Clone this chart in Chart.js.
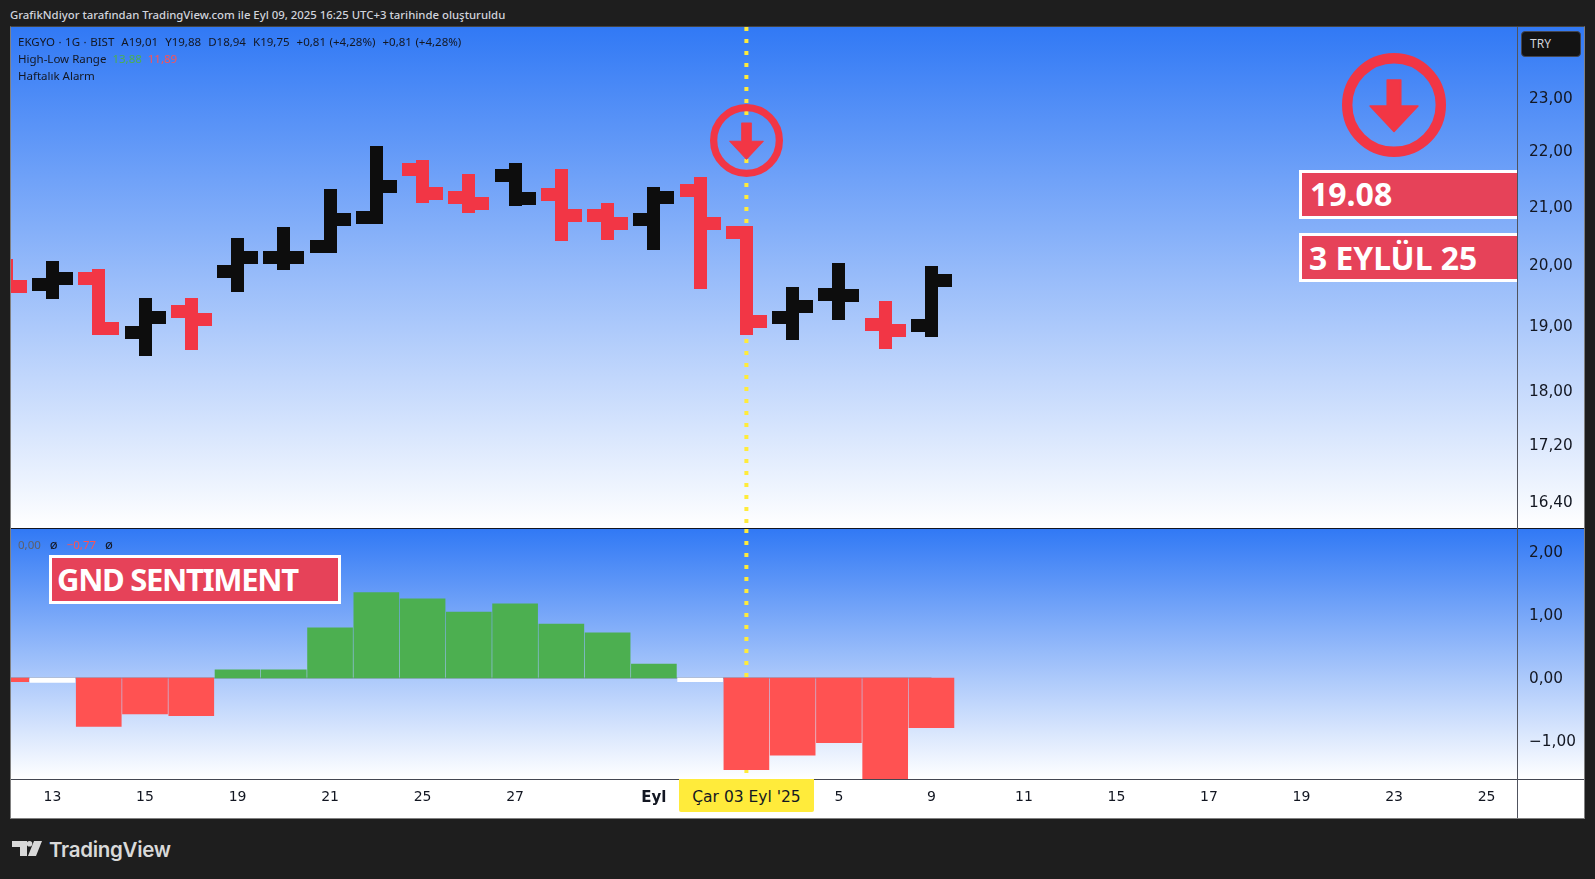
<!DOCTYPE html>
<html lang="tr">
<head>
<meta charset="utf-8">
<title>EKGYO</title>
<script src="https://cdn.jsdelivr.net/npm/chart.js@4"></script>
<style>
  html, body { margin: 0; padding: 0; background: #1e1e1e; overflow: hidden; }
  body { width: 1595px; height: 879px; position: relative; font-family: "Noto Sans", sans-serif; }
  .abs { position: absolute; }
  .pane { left: 11px; width: 1573px; background: linear-gradient(#3179f5, #ffffff); }
  canvas { position: absolute; display: block; }
  .legend { left: 18px; font-size: 11.5px; color: #131722; white-space: pre; line-height: 16px; }
  .tag { background: #e64259; border: 3px solid #fff; color: #fff; font-weight: 700; box-sizing: border-box; white-space: pre; }
</style>
</head>
<body>
<div class="abs" style="left:10px;top:14px;transform:translateY(-50%);font-size:11.36px;font-weight:500;color:#d1d4dc;white-space:pre">GrafikNdiyor tarafından TradingView.com ile Eyl 09, 2025 16:25 UTC+3 tarihinde oluşturuldu</div>

<div class="abs pane" style="top:27px;height:501px"></div>
<div class="abs pane" style="top:529px;height:250px"></div>
<div class="abs" style="left:11px;top:779px;width:1573px;height:39px;background:#fff"></div>
<div class="abs" style="left:11px;top:528px;width:1573px;height:1px;background:#131722"></div>
<div class="abs" style="left:11px;top:779px;width:1573px;height:1px;background:#434651"></div>
<div class="abs" style="left:1517px;top:27px;width:1px;height:791px;background:#50535e"></div>
<div class="abs" style="left:10px;top:26px;width:1573px;height:791px;border:1px solid #808080;border-top-color:#434343"></div>

<canvas id="priceChart" width="1573" height="501" style="left:11px;top:27px"></canvas>
<canvas id="sentimentChart" width="1573" height="289" style="left:11px;top:529px"></canvas>

<div class="abs legend" style="top:34px;word-spacing:0.55px">EKGYO · 1G · BIST  A19,01  Y19,88  D18,94  K19,75  +0,81 (+4,28%)  +0,81 (+4,28%)</div>
<div class="abs legend" style="top:51px">High-Low Range  <span style="color:#4caf50">13,88</span>  <span style="color:#ff5252">11,89</span></div>
<div class="abs legend" style="top:68px">Haftalık Alarm</div>
<div class="abs legend" style="top:536px;color:#5d606b;word-spacing:1.5px">0,00  <span style="color:#131722;font-size:13px">ø</span>  <span style="color:#ff5252">−0,77</span>  <span style="color:#131722;font-size:13px">ø</span></div>

<div class="abs tag" style="left:49px;top:555px;width:292px;height:49px;font-size:31px;letter-spacing:-1.3px;line-height:43px;padding-left:5px">GND SENTIMENT</div>
<div class="abs tag" style="left:1299px;top:170px;width:218px;height:49px;border-right:0;font-size:32px;line-height:41px;padding-left:8px">19.08</div>
<div class="abs tag" style="left:1299px;top:233px;width:218px;height:49px;border-right:0;font-size:31.8px;line-height:43px;padding-left:7px">3 EYLÜL 25</div>

<div class="abs" style="left:1521px;top:31px;width:60px;height:26px;box-sizing:border-box;background:#131313;border:1px solid #434651;border-radius:4px;color:#d1d4dc;font-size:12px;line-height:24px;padding-left:8px">TRY</div>
<div class="abs" style="left:679px;top:779px;width:135px;height:33px;background:#ffeb3b;border-radius:0 0 2px 2px;color:#131722;font:15.5px 'DejaVu Sans';line-height:36px;text-align:center">Çar 03 Eyl '25</div>

<svg width="0" height="0" style="position:absolute">
  <symbol id="downIcon" viewBox="0 0 100 100">
    <circle cx="50" cy="50" r="45" fill="none" stroke="#f23645" stroke-width="10"/>
    <path d="M43.5 26 H56.5 V51 H73 L50 75.5 L27 51 H43.5 Z" fill="#f23645" stroke="#f23645" stroke-width="1.5" stroke-linejoin="round"/>
  </symbol>
</svg>
<svg class="abs" style="left:710px;top:104px" width="73" height="73"><use href="#downIcon"/></svg>
<svg class="abs" style="left:1342px;top:53px" width="104" height="104"><use href="#downIcon"/></svg>

<svg class="abs" style="left:12px;top:841px" width="30" height="15" viewBox="0 0 30 15">
  <path d="M0 0 H15 V15 H8 V6 H0 Z" fill="#d9d9d9"/>
  <circle cx="17.5" cy="2.8" r="2.8" fill="#d9d9d9"/>
  <path d="M22 0 H30 L24 15 H16 Z" fill="#d9d9d9"/>
</svg>
<div class="abs" style="left:49px;top:849px;transform:translateY(-50%);font:600 20.5px Inter, sans-serif;letter-spacing:-0.3px;color:#d9d9d9">TradingView</div>

<script>
const barIndex = [0, 1, 2, 3, 4, 5, 6, 7, 8, 9, 10, 11, 12, 13, 14, 15, 16, 17, 18, 19, 20];
const opens  = [19.92, 19.67, 19.77, 18.90, 19.24, 19.89, 20.13, 20.32, 20.82, 21.67, 21.17, 21.56, 21.22, 20.85, 20.77, 21.29, 20.56, 19.14, 19.51, 19.03, 19.01];
const highs  = [19.99, 19.96, 19.82, 19.35, 19.35, 20.34, 20.54, 21.20, 21.98, 21.72, 21.47, 21.67, 21.56, 20.96, 21.24, 21.42, 20.56, 19.53, 19.92, 19.30, 19.88];
const lows   = [19.64, 19.54, 18.96, 18.63, 18.73, 19.66, 20.02, 20.32, 20.82, 21.19, 21.01, 21.12, 20.52, 20.54, 20.37, 19.71, 18.96, 18.88, 19.20, 18.74, 18.94];
const closes = [19.64, 19.77, 18.96, 19.14, 19.11, 20.12, 20.12, 20.78, 21.36, 21.24, 21.05, 21.15, 20.84, 20.70, 21.17, 20.70, 19.08, 19.32, 19.49, 18.93, 19.75];
const sentiment = [-0.06, -0.07, -0.77, -0.57, -0.60, 0.13, 0.13, 0.80, 1.36, 1.26, 1.05, 1.18, 0.86, 0.72, 0.22, -0.06, -1.46, -1.23, -1.03, -1.70, -0.79];
const neutralBars = [1, 15];

const priceTicks = [23, 22, 21, 20, 19, 18, 17.2, 16.4];
const sentimentTicks = [2, 1, 0, -1];
const dateTickIndex = [1, 3, 5, 7, 9, 11, 14, 18, 20, 22, 24, 26, 28, 30, 32];
const dateTickLabels = ['13', '15', '19', '21', '25', '27', 'Eyl', '5', '9', '11', '15', '17', '19', '23', '25'];
const alarmIndex = 16;

const RED = '#f23645', BLACK = '#0d0d0d';
const X_MIN = 0.103, X_MAX = 32.658;
const AXIS_WIDTH = 67;
const TICK_REACH = 20.5, TICK_THICK = 13;

const barColors = closes.map((c, i) => (i === 0 || c < closes[i - 1]) ? RED : BLACK);
const fmt = v => v.toFixed(2).replace('.', ',').replace('-', '−');

// the panes butt against each other, so no label padding around the scales
const fitYAxis = s => { s.width = AXIS_WIDTH; s.paddingTop = 0; s.paddingBottom = 0; };
const fitXAxis = s => { s.height = 39; s.paddingLeft = 0; s.paddingRight = 0; };

// yellow dotted crosshair, starts fresh at the top of each pane
const alarmLine = {
  id: 'alarmLine',
  beforeDatasetsDraw(chart) {
    const { ctx, chartArea, scales } = chart;
    const x = scales.x.getPixelForValue(alarmIndex);
    ctx.save();
    ctx.strokeStyle = '#ffeb3b';
    ctx.lineWidth = 4;
    ctx.setLineDash([4, 8]);
    ctx.beginPath();
    ctx.moveTo(x, chartArea.top);
    ctx.lineTo(x, chartArea.bottom);
    ctx.stroke();
    ctx.restore();
  }
};

// open/close ticks and capped stems on pixel edges, the native bar stays just inside
const ohlcTicks = {
  id: 'ohlcTicks',
  afterDatasetsDraw(chart) {
    const { ctx, chartArea, scales } = chart;
    const half = TICK_THICK / 2;
    ctx.save();
    ctx.beginPath();
    ctx.rect(chartArea.left, chartArea.top, chartArea.width, chartArea.height);
    ctx.clip();
    barIndex.forEach((idx, i) => {
      const x = scales.x.getPixelForValue(idx);
      const stemLeft = Math.round(x - half);
      const stemTop = Math.round(scales.y.getPixelForValue(highs[i]) - half);
      const stemBottom = Math.round(scales.y.getPixelForValue(lows[i]) + half);
      const openTop = Math.round(scales.y.getPixelForValue(opens[i]) - half);
      const closeTop = Math.round(scales.y.getPixelForValue(closes[i]) - half);
      ctx.fillStyle = barColors[i];
      ctx.fillRect(stemLeft, stemTop, TICK_THICK, stemBottom - stemTop);
      ctx.fillRect(stemLeft - 14, openTop, 14, TICK_THICK);
      ctx.fillRect(stemLeft + TICK_THICK, closeTop, 14, TICK_THICK);
    });
    ctx.restore();
  }
};

Chart.defaults.animation = false;
Chart.defaults.responsive = false;
Chart.defaults.devicePixelRatio = 1;

new Chart(document.getElementById('priceChart').getContext('2d'), {
  type: 'bar',
  data: {
    datasets: [{
      label: 'EKGYO',
      data: barIndex.map((idx, i) => ({ x: idx, y: [lows[i], highs[i]] })),
      backgroundColor: barColors,
      barThickness: TICK_THICK - 2,
    }],
  },
  plugins: [alarmLine, ohlcTicks],
  options: {
    layout: { padding: 0 },
    plugins: { legend: { display: false }, tooltip: { enabled: false } },
    scales: {
      x: { type: 'linear', display: false, offset: false, min: X_MIN, max: X_MAX, grid: { display: false } },
      y: {
        type: 'logarithmic',
        position: 'right',
        min: 16.05,
        max: 24.41,
        afterFit: fitYAxis,
        afterBuildTicks: s => { s.ticks = priceTicks.map(v => ({ value: v })); },
        grid: { display: false, drawTicks: false },
        border: { display: false },
        ticks: {
          autoSkip: false,
          callback: v => fmt(v),
          color: '#131722',
          padding: 12,
          labelOffset: 1,
          font: { family: 'DejaVu Sans', size: 15.3 },
        },
      },
    },
  },
});

new Chart(document.getElementById('sentimentChart').getContext('2d'), {
  type: 'bar',
  data: {
    datasets: [
      {
        label: 'Sentiment',
        order: 1,
        data: barIndex.map((idx, i) => ({ x: idx, y: sentiment[i] })),
        backgroundColor: sentiment.map((v, i) => neutralBars.includes(i) ? '#ffffff' : (v < 0 ? '#ff5252' : '#4caf50')),
        barThickness: 45,
      },
      {
        type: 'line',
        label: 'Zero',
        order: 2,
        data: barIndex.map(idx => ({ x: idx, y: 0 })),
        borderColor: '#95a8cc',
        borderWidth: 2,
        pointRadius: 0,
      },
    ],
  },
  plugins: [alarmLine],
  options: {
    layout: { padding: 0 },
    plugins: { legend: { display: false }, tooltip: { enabled: false } },
    scales: {
      x: {
        type: 'linear',
        offset: false,
        min: X_MIN,
        max: X_MAX,
        afterFit: fitXAxis,
        afterBuildTicks: s => { s.ticks = dateTickIndex.map(v => ({ value: v })); },
        grid: { display: false, drawTicks: false },
        border: { display: false },
        ticks: {
          autoSkip: false,
          maxRotation: 0,
          callback: v => dateTickLabels[dateTickIndex.indexOf(v)],
          color: '#131722',
          padding: 10,
          font: ctx => (dateTickLabels[ctx.index] === 'Eyl'
            ? { family: 'DejaVu Sans', size: 15, weight: '700' }
            : { family: 'DejaVu Sans', size: 14, weight: '400' }),
        },
      },
      y: {
        position: 'right',
        min: -1.608,
        max: 2.373,
        afterFit: fitYAxis,
        afterBuildTicks: s => { s.ticks = sentimentTicks.map(v => ({ value: v })); },
        grid: { display: false, drawTicks: false },
        border: { display: false },
        ticks: {
          autoSkip: false,
          callback: v => fmt(v),
          color: '#131722',
          padding: 12,
          labelOffset: 1,
          font: { family: 'DejaVu Sans', size: 15.3 },
        },
      },
    },
  },
});
</script>
</body>
</html>
